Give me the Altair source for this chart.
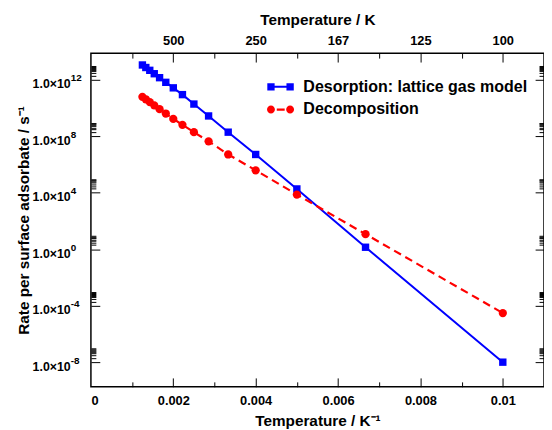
import altair as alt
import pandas as pd

# ---- data ----
inv_temperature = [0.00125, 0.001333, 0.001429, 0.001538, 0.001667, 0.001818, 0.002,
                   0.002222, 0.0025, 0.002857, 0.003333, 0.004, 0.005, 0.006667, 0.01]
desorption_rate = [1.12e13, 7.41e12, 4.68e12, 2.69e12, 1.41e12, 6.61e11, 2.69e11,
                   8.91e10, 1.91e10, 2.75e9, 1.95e8, 5.13e6, 1.86e4, 1.38, 1.0e-8]
decomposition_rate = [6.17e10, 4.17e10, 2.63e10, 1.55e10, 8.32e9, 4.07e9, 1.70e9,
                      6.46e8, 1.95e8, 4.37e7, 5.13e6, 3.89e5, 7.41e3, 11.7, 3.0e-5]
series_names = ["Desorption: lattice gas model", "Decomposition"]

x_major = [0, 0.002, 0.004, 0.006, 0.008, 0.01]
x_major_labels = ["0", "0.002", "0.004", "0.006", "0.008", "0.01"]
x_all_ticks = [0.001, 0.002, 0.003, 0.004, 0.005, 0.006, 0.007, 0.008, 0.009, 0.01]
top_values = [0.002, 0.004, 0.006, 0.008, 0.01]
top_labels = ["500", "250", "167", "125", "100"]
y_major = [1e-8, 1e-4, 1e0, 1e4, 1e8, 1e12]
y_mantissa_labels = ["1.0×10", "1.0×10", "1.0×10", "1.0×10", "1.0×10", "1.0×10"]
y_exponent_labels = ["-8", "-4", "0", "4", "8", "12"]
y_minor_mult = [2, 3, 4, 5, 6, 7, 8, 9]

BLUE = "#0000ff"
RED = "#ff0000"
FONT = "Liberation Sans"
W, H = 459, 338

rows = []
for xv, r in zip(inv_temperature, desorption_rate):
    rows.append({"x": xv, "rate": r, "series": series_names[0]})
for xv, r in zip(inv_temperature, decomposition_rate):
    rows.append({"x": xv, "rate": r, "series": series_names[1]})
df = pd.DataFrame(rows)

y_all_ticks = list(y_major) + [m * v for v in y_major for m in y_minor_mult]


def label_expr(values, labels):
    vals = ",".join(repr(float(v)) for v in values)
    labs = ",".join("'" + s + "'" for s in labels)
    return f"[{labs}][indexof([{vals}], datum.value)]"


xscale = alt.Scale(domain=[0, 0.011], nice=False, zero=False)
yscale = alt.Scale(type="log", domain=[1.8e-10, 7.7e13], nice=False)

x_tick_size = {"condition": {"test": "round(datum.value*1000) % 2 == 0", "value": 9}, "value": 5}
y_tick_size = {"condition": {"test": "abs(log(datum.value)/LN10 - round(log(datum.value)/LN10)) < 0.001",
                             "value": 9}, "value": 5}

common = dict(grid=False, labelFont=FONT, labelFontWeight="bold", labelFontSize=13,
              labelColor="black", titleFont=FONT, titleFontWeight="bold", titleFontSize=15.5,
              titleColor="black")

xa_bottom = alt.Axis(orient="bottom", values=x_major, labelExpr=label_expr(x_major, x_major_labels),
                     ticks=False, domain=False, labelPadding=8, title="Temperature / K⁻¹",
                     titlePadding=6, **common)
xa_top = alt.Axis(orient="top", values=top_values, labelExpr=label_expr(top_values, top_labels),
                  ticks=False, domain=False, labelPadding=6, title="Temperature / K",
                  titlePadding=7, **common)
xa_in_bottom = alt.Axis(orient="top", offset=-H, values=x_all_ticks, tickSize=x_tick_size,
                        tickColor="black", tickWidth=1, labels=False, domain=False, grid=False, title="")
xa_in_top = alt.Axis(orient="bottom", offset=-H, values=x_all_ticks, tickSize=x_tick_size,
                     tickColor="black", tickWidth=1, labels=False, domain=False, grid=False, title="")

ya_left = alt.Axis(orient="left", values=y_major, labelExpr=label_expr(y_major, y_mantissa_labels),
                   ticks=False, domain=False, labelPadding=21, labelOffset=4,
                   title="Rate per surface adsorbate / s⁻¹", titlePadding=1,
                   **{**common, "labelFontSize": 12.5})
ya_exp = alt.Axis(orient="left", values=y_major, labelExpr=label_expr(y_major, y_exponent_labels),
                  ticks=False, domain=False, labelPadding=21, labelAlign="left", labelOffset=-2,
                  labelFont=FONT, labelFontWeight="bold", labelFontSize=10, labelColor="black",
                  grid=False, title="")
ya_in_left = alt.Axis(orient="right", offset=-W, values=y_all_ticks, tickSize=y_tick_size,
                      tickColor="black", tickWidth=1, labels=False, domain=False, grid=False, title="")
ya_in_right = alt.Axis(orient="left", offset=-W, values=y_all_ticks, tickSize=y_tick_size,
                       tickColor="black", tickWidth=1, labels=False, domain=False, grid=False, title="")

base = alt.Chart(df)
sel_des = alt.datum.series == series_names[0]
sel_dec = alt.datum.series == series_names[1]

blue_line = base.transform_filter(sel_des).mark_line(color=BLUE, strokeWidth=2).encode(
    x=alt.X("x:Q", scale=xscale, axis=xa_bottom),
    y=alt.Y("rate:Q", scale=yscale, axis=ya_left),
    order="x:Q",
)
red_line = base.transform_filter(sel_dec).mark_line(color=RED, strokeWidth=2.2, strokeDash=[8, 5]).encode(
    x=alt.X("x:Q", scale=xscale, axis=xa_top),
    y=alt.Y("rate:Q", scale=yscale, axis=ya_in_left),
    order="x:Q",
)
blue_pts = base.transform_filter(sel_des).mark_point(shape="square", filled=True, size=56,
                                                     color=BLUE, opacity=1).encode(
    x=alt.X("x:Q", scale=xscale, axis=xa_in_bottom),
    y=alt.Y("rate:Q", scale=yscale, axis=ya_in_right),
)
red_pts = base.transform_filter(sel_dec).mark_point(shape="circle", filled=True, size=70,
                                                    color=RED, opacity=1).encode(
    x=alt.X("x:Q", scale=xscale, axis=xa_in_top),
    y=alt.Y("rate:Q", scale=yscale, axis=ya_exp),
)

# legend symbols: marker - line - marker (units of 4 px)
path_blue = ("M-3.35,-0.925L-1.5,-0.925L-1.5,0.925L-3.35,0.925Z"
             "M-1.5,-0.25L1.5,-0.25L1.5,0.25L-1.5,0.25Z"
             "M1.5,-0.925L3.35,-0.925L3.35,0.925L1.5,0.925Z")
path_red = ("M-3.425,0A1,1 0 1,0 -1.425,0A1,1 0 1,0 -3.425,0Z"
            "M-0.95,-0.28L1.05,-0.28L1.05,0.28L-0.95,0.28Z"
            "M1.425,0A1,1 0 1,0 3.425,0A1,1 0 1,0 1.425,0Z")

legend = alt.Legend(title=None, orient="none", legendX=184, legendY=26, padding=0,
                    labelFont=FONT, labelFontSize=16.2, labelFontWeight="bold", labelColor="black",
                    labelLimit=400, symbolSize=64, labelOffset=15, rowPadding=6, symbolStrokeWidth=0)
legend_layer = base.transform_filter("false").mark_point(filled=True, opacity=1).encode(
    x=alt.X("x:Q", scale=xscale, axis=None),
    y=alt.Y("rate:Q", scale=yscale, axis=None),
    color=alt.Color("series:N", scale=alt.Scale(domain=series_names, range=[BLUE, RED]), legend=legend),
    shape=alt.Shape("series:N", scale=alt.Scale(domain=series_names, range=[path_blue, path_red]),
                    legend=legend),
)

chart = (
    alt.layer(blue_line, red_line, blue_pts, red_pts, legend_layer)
    .resolve_axis(x="independent", y="independent")
    .properties(width=W, height=H, autosize=alt.AutoSizeParams(type="none"),
                padding={"left": 84, "top": 43, "right": 0, "bottom": 40})
    .configure_view(stroke="black", strokeWidth=1.5)
)

chart.save("out.html", embed_options={"renderer": "svg", "actions": False})
